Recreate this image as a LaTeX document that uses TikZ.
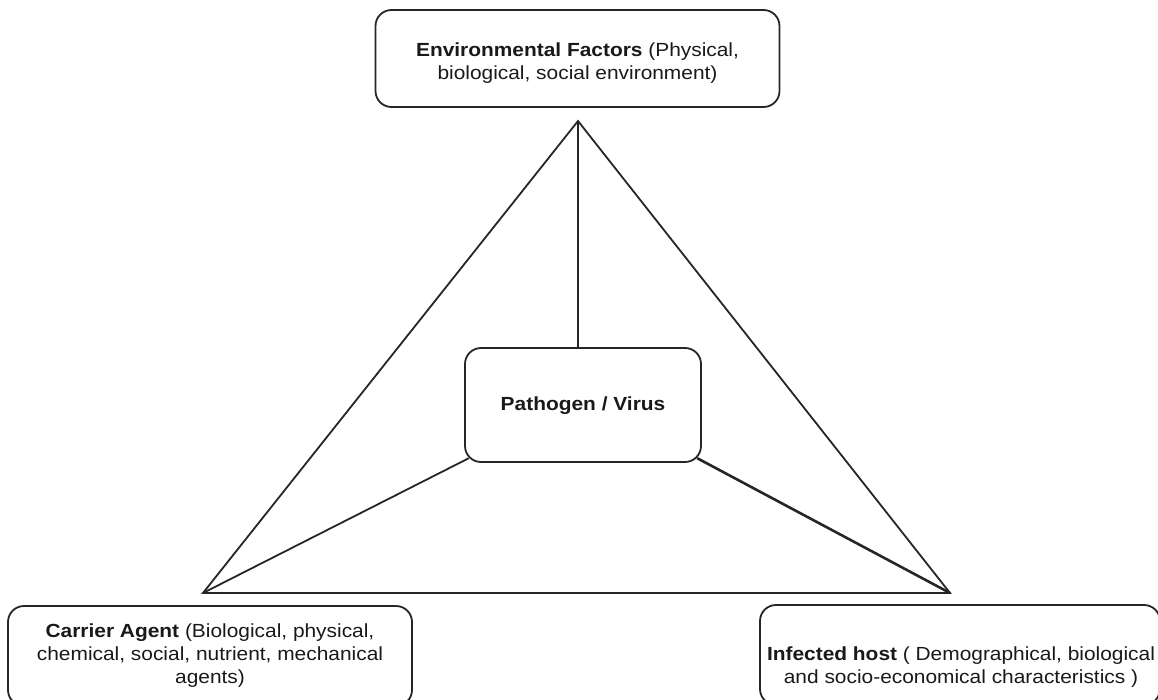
\documentclass[tikz,border=0pt]{standalone}
\usepackage{fontspec}
\setmainfont{Liberation Sans}[FakeStretch=1.1]
\usetikzlibrary{calc}
\begin{document}
\begin{tikzpicture}[x=1pt,y=-1pt,
  box/.style={draw=black!85, line width=1.8pt, rounded corners=16pt, inner sep=0pt},
  txt/.style={align=center, font=\fontsize{19}{23}\selectfont, text=black!90, inner sep=0pt},
  edge/.style={draw=black!85, line width=1.8pt}]
\useasboundingbox (0,0) rectangle (1158,700);
% boxes
\node[box, minimum width=404pt, minimum height=97pt] (env) at (577.5,58.5) {};
\node[txt] (envtext) at (577.5,63) {\textbf{Environmental Factors} (Physical,\\ biological, social environment)};
\node[box, minimum width=236pt, minimum height=114pt] (path) at (583,405) {};
\node[txt] (pathtext) at (583,406) {\textbf{Pathogen / Virus}};
\node[box, minimum width=404pt, minimum height=100pt] (carrier) at (210,656) {};
\node[txt] (carriertext) at (210,656) {\textbf{Carrier Agent} (Biological, physical,\\ chemical, social, nutrient, mechanical\\ agents)};
\node[box, minimum width=400pt, minimum height=100pt] (host) at (960,655) {};
\node[txt] (hosttext) at (961,667) {\textbf{Infected host} ( Demographical, biological\\ and socio-economical characteristics )};
% vertices
\coordinate (apex) at (578,121);
\coordinate (lv) at (203,593);
\coordinate (rv) at (950,593);
\coordinate (psw) at ($(path.south west)+(4.7,-4.7)$);
\coordinate (pse) at ($(path.south east)+(-4.7,-4.7)$);
% connectors
\draw[edge, line join=miter] (apex) -- (lv) -- (rv) -- cycle;
\draw[edge] (apex) -- (apex |- path.north);
\draw[edge] (psw) -- (lv);
\draw[edge, line width=2.6pt] (pse) -- (rv);
\end{tikzpicture}
\end{document}
